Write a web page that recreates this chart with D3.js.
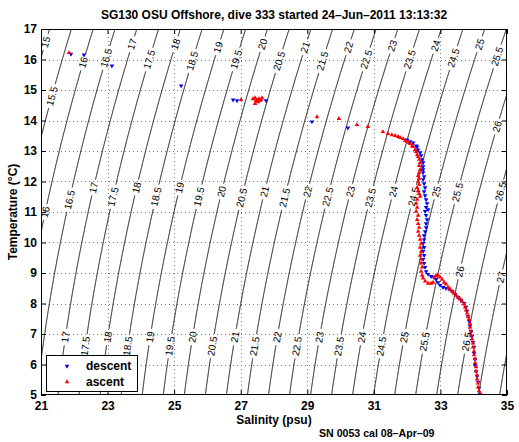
<!DOCTYPE html>
<html><head><meta charset="utf-8">
<script src="https://cdn.jsdelivr.net/npm/d3@7"></script>
<style>
body{margin:0;background:#fff}
text{font-family:"Liberation Sans",Arial,Helvetica,sans-serif}
</style>
</head><body>
<svg id="chart" width="519" height="442"></svg>
<script>
// ---------------- data ----------------
const titleText = "SG130 OSU Offshore, dive 333 started 24\u2013Jun\u20132011 13:13:32";
const xLabel = "Salinity (psu)";
const yLabel = "Temperature (\u00B0C)";
const footText = "SN 0053 cal 08\u2013Apr\u201309";
const seriesNames = ["descent", "ascent"];

const salinityTicks = [21, 23, 25, 27, 29, 31, 33, 35];
const temperatureTicks = [5, 6, 7, 8, 9, 10, 11, 12, 13, 14, 15, 16, 17];

const densityLevels = [15, 15.5, 16, 16.5, 17, 17.5, 18, 18.5, 19, 19.5, 20, 20.5, 21, 21.5,
  22, 22.5, 23, 23.5, 24, 24.5, 25, 25.5, 26, 26.5, 27, 27.5];

// contour label placements: level and temperature where the label sits
const labelLevel = [15, 15.5, 16, 16.5, 17, 17.5, 18, 18.5, 19, 19.5, 20, 20.5, 21, 21.5, 22, 22.5, 23, 23.5, 24, 24.5, 25, 25.5, 26,
  16, 16.5, 17, 17.5, 18, 18.5, 19, 19.5, 20, 20.5, 21, 21.5, 22, 22.5, 23, 23.5, 24, 24.5, 25, 25.5, 26.5,
  17, 17.5, 18, 18.5, 19, 19.5, 20, 20.5, 21, 21.5, 22, 22.5, 23, 23.5, 24, 24.5, 25, 25.5, 26, 26.5, 27];
const labelTemp = [16.57, 14.8, 15.9, 16.05, 16.5, 16.0, 16.5, 15.95, 16.4, 16.0, 16.5, 15.95, 16.4, 15.95, 16.4, 16.0, 16.45, 16.0, 16.45, 16.05, 16.5, 16.1, 13.8,
  11.0, 11.4, 11.8, 11.5, 11.8, 11.5, 11.8, 11.5, 11.67, 11.47, 11.67, 11.47, 11.67, 11.5, 11.67, 11.47, 11.67, 11.5, 11.67, 11.65, 11.67,
  6.9, 6.6, 6.9, 6.6, 6.9, 6.6, 6.9, 6.6, 6.9, 6.6, 6.9, 6.6, 6.9, 6.6, 6.9, 6.6, 6.9, 6.75, 9.05, 6.75, 8.86];

const descentS = [21.90, 22.29, 23.13, 25.21, 26.77, 26.89, 27.76, 29.14, 30.22, 32.00, 32.09, 32.18, 32.27, 32.30, 32.33,
  32.39, 32.42, 32.45, 32.48, 32.48, 32.48, 32.48, 32.51, 32.48, 32.51, 32.54, 32.51, 32.54, 32.57, 32.60, 32.57, 32.63,
  32.54, 32.57, 32.60, 32.57, 32.57, 32.54, 32.51, 32.51, 32.48, 32.51, 32.48, 32.51, 32.48, 32.51, 32.54, 32.57, 32.63,
  32.72, 32.81, 32.87, 32.93, 32.99, 33.08, 33.17, 33.26, 33.35, 33.44, 33.53, 33.62, 33.71, 33.77, 33.80, 33.83, 33.86,
  33.89, 33.92, 33.95, 33.98, 34.01, 34.01, 34.04, 34.04, 34.07, 34.10, 34.13, 34.16, 34.19];
const descentT = [16.18, 16.15, 15.79, 15.14, 14.68, 14.65, 14.65, 13.96, 13.76, 13.37, 13.31, 13.27, 13.17, 13.14, 13.04,
  12.95, 12.85, 12.72, 12.62, 12.49, 12.39, 12.29, 12.16, 12.06, 11.93, 11.80, 11.67, 11.54, 11.41, 11.28, 11.15, 11.08,
  11.02, 10.89, 10.75, 10.62, 10.49, 10.36, 10.23, 10.10, 9.97, 9.84, 9.71, 9.58, 9.45, 9.32, 9.19, 9.05, 8.96,
  8.89, 8.86, 8.79, 8.69, 8.60, 8.53, 8.50, 8.47, 8.40, 8.30, 8.20, 8.11, 8.01, 7.88, 7.75, 7.58, 7.42,
  7.26, 7.09, 6.93, 6.73, 6.57, 6.37, 6.18, 5.98, 5.78, 5.62, 5.42, 5.23, 5.03];

const ascentS = [21.84, 27.01, 27.37, 27.43, 27.49, 27.55, 27.61, 27.64, 27.46, 27.52, 27.43, 27.58, 29.29, 29.95, 30.49,
  30.82, 31.27, 31.42, 31.54, 31.64, 31.73, 31.79, 31.88, 31.94, 32.00, 32.06, 32.09, 32.15, 32.18, 32.24, 32.27, 32.30,
  32.33, 32.36, 32.39, 32.36, 32.39, 32.36, 32.33, 32.36, 32.33, 32.36, 32.30, 32.33, 32.36, 32.39, 32.30, 32.27, 32.30,
  32.27, 32.33, 32.30, 32.33, 32.36, 32.33, 32.36, 32.39, 32.42, 32.39, 32.42, 32.39, 32.42, 32.42, 32.45, 32.42, 32.45,
  32.48, 32.54, 32.63, 32.72, 32.78, 32.81, 32.87, 32.93, 32.99, 33.05, 33.11, 33.17, 33.23, 33.29, 33.35, 33.41, 33.47,
  33.53, 33.59, 33.65, 33.71, 33.74, 33.77, 33.80, 33.83, 33.86, 33.89, 33.89, 33.92, 33.92, 33.95, 33.98, 33.98, 34.01,
  34.01, 34.04, 34.04, 34.07, 34.07, 34.10, 34.10, 34.13, 34.13, 34.16, 34.19];
const ascentT = [16.22, 14.68, 14.71, 14.74, 14.68, 14.71, 14.68, 14.74, 14.65, 14.61, 14.55, 14.65, 14.12, 14.06, 13.86,
  13.80, 13.63, 13.57, 13.53, 13.50, 13.47, 13.44, 13.40, 13.34, 13.31, 13.27, 13.24, 13.17, 13.14, 13.04, 12.98, 12.88,
  12.81, 12.72, 12.62, 12.52, 12.39, 12.29, 12.19, 12.10, 12.00, 11.90, 11.80, 11.70, 11.60, 11.51, 11.41, 11.28, 11.15,
  11.02, 10.89, 10.75, 10.62, 10.49, 10.36, 10.23, 10.10, 9.97, 9.84, 9.71, 9.58, 9.45, 9.32, 9.19, 9.05, 8.92,
  8.83, 8.73, 8.66, 8.66, 8.69, 8.86, 8.92, 8.92, 8.86, 8.79, 8.69, 8.63, 8.53, 8.47, 8.40, 8.33, 8.27,
  8.20, 8.14, 8.07, 7.98, 7.88, 7.78, 7.68, 7.58, 7.48, 7.35, 7.22, 7.09, 6.96, 6.83, 6.70, 6.57, 6.44,
  6.31, 6.18, 6.05, 5.92, 5.78, 5.65, 5.52, 5.39, 5.26, 5.13, 5.03];

// ---------------- seawater density (UNESCO 1981, surface) ----------------
function sigmaT(S, T) {
  const rw = 999.842594 + 6.793952e-2*T - 9.095290e-3*T*T + 1.001685e-4*T**3 - 1.120083e-6*T**4 + 6.536332e-9*T**5;
  const A = 8.24493e-1 - 4.0899e-3*T + 7.6438e-5*T*T - 8.2467e-7*T**3 + 5.3875e-9*T**4;
  const B = -5.72466e-3 + 1.0227e-4*T - 1.6546e-6*T*T;
  const C = 4.8314e-4;
  return rw + A*S + B*Math.pow(S, 1.5) + C*S*S - 1000;
}
function salinityFor(level, T) {
  let lo = 0, hi = 50;
  for (let i = 0; i < 60; i++) {
    const m = (lo + hi) / 2;
    if (sigmaT(m, T) < level) lo = m; else hi = m;
  }
  return (lo + hi) / 2;
}

// ---------------- layout ----------------
const svg = d3.select("#chart");
const L = 41, R = 507, Tp = 29, B = 395;
const x = d3.scaleLinear().domain([21, 35]).range([L, R]);
const y = d3.scaleLinear().domain([5, 17]).range([B, Tp]);

svg.append("rect").attr("width", 519).attr("height", 442).attr("fill", "#fff");
svg.append("defs").append("clipPath").attr("id", "plotclip")
  .append("rect").attr("x", L).attr("y", Tp).attr("width", R - L).attr("height", B - Tp);

// grid
const grid = svg.append("g").attr("stroke", "#7a7a7a").attr("stroke-width", 1).attr("stroke-dasharray", "1,3");
grid.selectAll(".gx").data(salinityTicks.slice(1, -1)).join("line")
  .attr("x1", d => Math.round(x(d)) + 0.5).attr("x2", d => Math.round(x(d)) + 0.5)
  .attr("y1", Tp).attr("y2", B);
grid.selectAll(".gy").data(temperatureTicks.slice(1, -1)).join("line")
  .attr("y1", d => Math.round(y(d)) + 0.5).attr("y2", d => Math.round(y(d)) + 0.5)
  .attr("x1", L).attr("x2", R);

// contours
const plot = svg.append("g").attr("clip-path", "url(#plotclip)");
const lineG = plot.append("g");
const labG = plot.append("g");

const labels = labelLevel.map((lev, i) => {
  const T0 = labelTemp[i];
  const p0 = [x(salinityFor(lev, T0)), y(T0)];
  const pa = [x(salinityFor(lev, T0 + 0.1)), y(T0 + 0.1)];
  const pb = [x(salinityFor(lev, T0 - 0.1)), y(T0 - 0.1)];
  const ang = Math.atan2(pa[1] - pb[1], pa[0] - pb[0]) * 180 / Math.PI;
  const t = labG.append("text")
    .attr("transform", `translate(${p0[0]},${p0[1]}) rotate(${ang})`)
    .attr("text-anchor", "middle").attr("dy", "0.35em")
    .attr("font-size", 10).attr("fill", "#000")
    .text(String(lev));
  const w = t.node().getComputedTextLength();
  return { lev, p: p0, half: w / 2 + 2.5 };
});

const lineGen = d3.line();
densityLevels.forEach(lev => {
  const myLabels = labels.filter(l => l.lev === lev);
  const segs = [];
  let cur = [];
  for (let T = 4.9; T <= 17.1; T += 0.01) {
    const p = [x(salinityFor(lev, T)), y(T)];
    const inGap = myLabels.some(l => Math.hypot(p[0] - l.p[0], p[1] - l.p[1]) < l.half);
    if (inGap) { if (cur.length > 1) segs.push(cur); cur = []; }
    else cur.push(p);
  }
  if (cur.length > 1) segs.push(cur);
  segs.forEach(s => lineG.append("path").attr("d", lineGen(s))
    .attr("fill", "none").attr("stroke", "#000").attr("stroke-width", 1));
});

// data markers
const tri = d3.symbol(d3.symbolTriangle).size(9);
const dataG = plot.append("g");
dataG.selectAll(".d").data(descentS.map((s, i) => [s, descentT[i]])).join("path")
  .attr("d", tri).attr("fill", "#0000ff")
  .attr("transform", d => `translate(${x(d[0])},${y(d[1])}) rotate(180)`);
dataG.selectAll(".a").data(ascentS.map((s, i) => [s, ascentT[i]])).join("path")
  .attr("d", tri).attr("fill", "#ff0000")
  .attr("transform", d => `translate(${x(d[0])},${y(d[1])})`);

// axes
const fmt = d3.format("d");
const ax = g => g.call(s => s.selectAll("text").attr("font-size", 12).attr("font-weight", "bold").attr("fill", "#000")
  .attr("font-family", '"Liberation Sans",Arial,sans-serif'))
  .call(s => s.select(".domain").remove())
  .call(s => s.selectAll("line").attr("stroke", "#000"));
svg.append("g").attr("transform", `translate(0,${B})`)
  .call(d3.axisBottom(x).tickValues(salinityTicks).tickFormat(fmt).tickSizeInner(-5).tickSizeOuter(0).tickPadding(6)).call(ax);
svg.append("g").attr("transform", `translate(0,${Tp})`)
  .call(d3.axisTop(x).tickValues(salinityTicks).tickFormat("").tickSizeInner(-5).tickSizeOuter(0)).call(ax);
svg.append("g").attr("transform", `translate(${L},0)`)
  .call(d3.axisLeft(y).tickValues(temperatureTicks).tickFormat(fmt).tickSizeInner(-5).tickSizeOuter(0).tickPadding(4)).call(ax);
svg.append("g").attr("transform", `translate(${R},0)`)
  .call(d3.axisRight(y).tickValues(temperatureTicks).tickFormat("").tickSizeInner(-5).tickSizeOuter(0)).call(ax);
svg.append("rect").attr("x", L + 0.5).attr("y", Tp + 0.5).attr("width", R - L - 1).attr("height", B - Tp - 1)
  .attr("fill", "none").attr("stroke", "#000").attr("stroke-width", 1);

// legend
const lg = svg.append("g");
lg.append("rect").attr("x", 46.5).attr("y", 355.5).attr("width", 91).attr("height", 36)
  .attr("fill", "#fff").attr("stroke", "#000");
lg.append("path").attr("d", tri).attr("fill", "#0000ff").attr("transform", "translate(67,366) rotate(180)");
lg.append("path").attr("d", tri).attr("fill", "#ff0000").attr("transform", "translate(67,382)");
lg.append("text").attr("x", 86).attr("y", 370).attr("font-size", 12).attr("font-weight", "bold").text(seriesNames[0]);
lg.append("text").attr("x", 86).attr("y", 386).attr("font-size", 12).attr("font-weight", "bold").text(seriesNames[1]);

// titles
svg.append("text").attr("x", (L + R) / 2).attr("y", 19).attr("text-anchor", "middle")
  .attr("font-size", 12).attr("font-weight", "bold").text(titleText);
svg.append("text").attr("x", (L + R) / 2).attr("y", 424).attr("text-anchor", "middle")
  .attr("font-size", 12).attr("font-weight", "bold").text(xLabel);
svg.append("text").attr("transform", `translate(17,${(Tp + B) / 2}) rotate(-90)`).attr("text-anchor", "middle")
  .attr("font-size", 12).attr("font-weight", "bold").text(yLabel);
svg.append("text").attr("x", 319).attr("y", 437)
  .attr("font-size", 10.6).attr("font-weight", "bold").text(footText);
</script>
</body></html>
